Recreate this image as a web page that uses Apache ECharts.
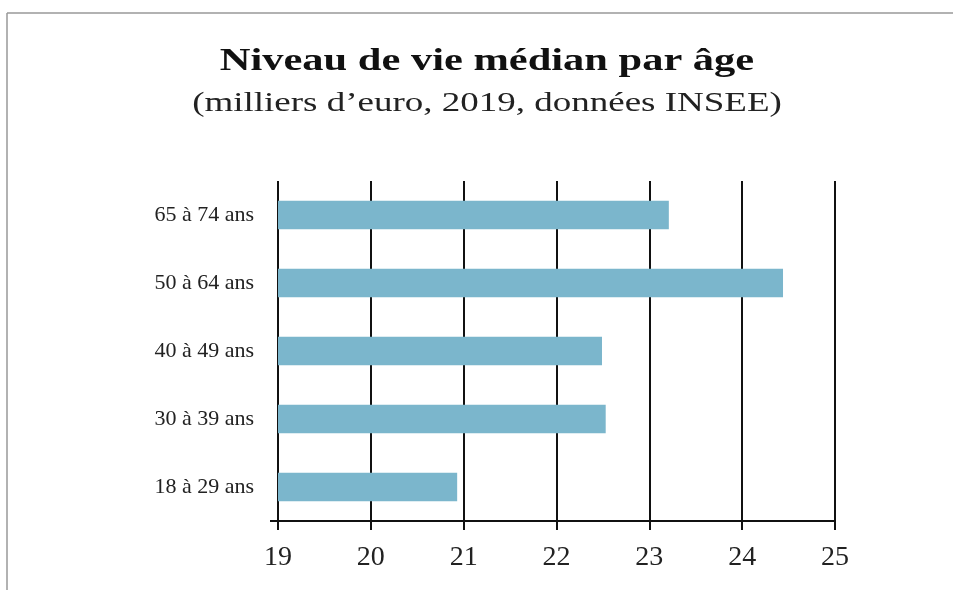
<!DOCTYPE html>
<html>
<head>
<meta charset="utf-8">
<script src="https://cdn.jsdelivr.net/npm/echarts@6/dist/echarts.min.js"></script>
<style>
  html, body { margin: 0; padding: 0; background: #fff; }
  #chart { width: 953px; height: 590px; }
</style>
</head>
<body>
<div id="chart"></div>
<script>
// données
const categories = ['18 à 29 ans', '30 à 39 ans', '40 à 49 ans', '50 à 64 ans', '65 à 74 ans']
const values = [20.93, 22.53, 22.49, 24.44, 23.21]
const xMin = 19
const xMax = 25
const titleText = 'Niveau de vie médian par âge'
const subText = '(milliers d\u2019euro, 2019, données INSEE)'

const chart = echarts.init(document.getElementById('chart'))
const serif = '"Liberation Serif", "DejaVu Serif", serif'

chart.setOption({
  backgroundColor: '#fff',
  animation: false,
  grid: { left: 278, right: 118, top: 181, bottom: 69 },
  xAxis: {
    type: 'value',
    min: xMin,
    max: xMax,
    interval: 1,
    axisLine: { show: true, lineStyle: { color: '#111', width: 2 } },
    axisTick: { show: true, length: 9, lineStyle: { color: '#111', width: 2 } },
    axisLabel: { fontFamily: serif, fontSize: 28, color: '#222', margin: 23 },
    splitLine: { show: true, lineStyle: { color: '#111', width: 2 } }
  },
  yAxis: {
    type: 'category',
    data: categories,
    axisLine: { show: false },
    axisTick: { show: false },
    axisLabel: { fontFamily: serif, fontSize: 22, color: '#222', margin: 24 }
  },
  series: [
    {
      type: 'bar',
      data: values,
      barWidth: '42%',
      itemStyle: { color: '#7bb6cc' }
    }
  ],
  graphic: [
    // cadre gris en haut et à gauche
    { type: 'line', shape: { x1: 7, y1: 13, x2: 953, y2: 13 }, style: { stroke: '#999', lineWidth: 1.5 } },
    { type: 'line', shape: { x1: 7, y1: 13, x2: 7, y2: 590 }, style: { stroke: '#999', lineWidth: 1.5 } },
    // petit prolongement de l'axe à gauche
    { type: 'line', shape: { x1: 270, y1: 521, x2: 279, y2: 521 }, style: { stroke: '#111', lineWidth: 2 } },
    // titre (texte un peu étiré horizontalement comme dans l'original)
    {
      type: 'text', x: 487, y: 62, scaleX: 1.37,
      style: { text: titleText, font: 'bold 31px ' + serif, fill: '#111', textAlign: 'center', textVerticalAlign: 'middle' }
    },
    {
      type: 'text', x: 487, y: 104, scaleX: 1.37,
      style: { text: subText, font: '27px ' + serif, fill: '#222', textAlign: 'center', textVerticalAlign: 'middle' }
    }
  ]
})
</script>
</body>
</html>
